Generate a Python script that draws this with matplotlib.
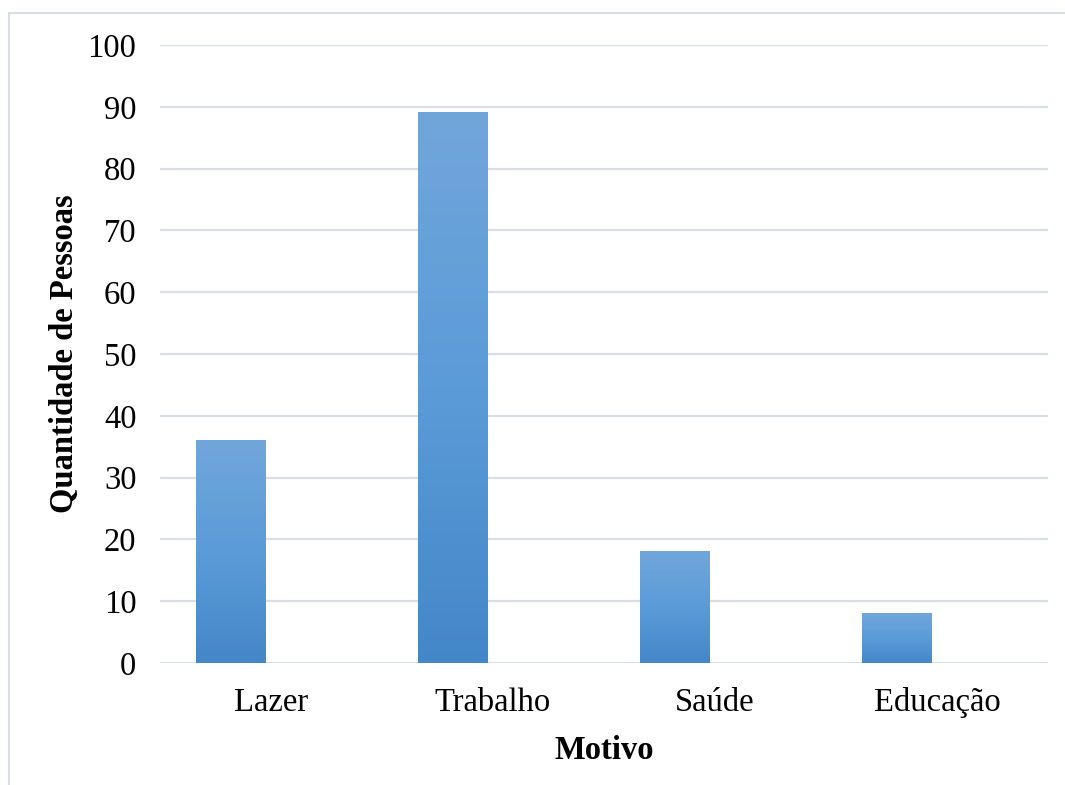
import matplotlib
matplotlib.use("Agg")
import matplotlib.pyplot as plt
import numpy as np
from matplotlib.patches import Rectangle
from matplotlib.colors import LinearSegmentedColormap

categories = ["Lazer", "Trabalho", "Saúde", "Educação"]
values = [36, 89, 18, 8]
y_ticks = [0, 10, 20, 30, 40, 50, 60, 70, 80, 90, 100]

plt.rcParams["font.family"] = ["Liberation Serif", "DejaVu Serif"]

W, H = 1065, 785
fig = plt.figure(figsize=(W / 100, H / 100), dpi=100)
fig.patch.set_facecolor("white")

# light frame around the chart area
frame = Rectangle((8.5 / W, -0.1), 1.2, 1 - 12.5 / H + 0.1, transform=fig.transFigure,
                  fill=False, edgecolor="#d9dde4", linewidth=1.5, zorder=0)
fig.patches.append(frame)

ax = fig.add_axes([160 / W, 122 / H, (1048 - 160) / W, (663 - 45) / H])

grad_cmap = LinearSegmentedColormap.from_list("bar_grad", ["#4487c8", "#5b9bd8", "#71a6db"])
grad = np.linspace(0, 1, 256).reshape(-1, 1)

offset, width = -0.182, 0.312
x = np.arange(len(categories))
bars = ax.bar(x + offset, values, width=width, color="none", edgecolor="none", zorder=3)
for b in bars:
    x0, y0 = b.get_x(), b.get_y()
    ax.imshow(grad, cmap=grad_cmap, origin="lower", aspect="auto",
              extent=(x0, x0 + b.get_width(), y0, y0 + b.get_height()), zorder=3,
              interpolation="bilinear")
ax.set_xlim(-0.5, len(categories) - 0.5)
ax.set_ylim(0, 100)

fs = 23.5
ax.set_yticks(y_ticks)
ax.set_xticks(x)
ax.set_xticklabels(categories)
ax.tick_params(axis="both", length=0, labelsize=fs, colors="black")
ax.tick_params(axis="y", pad=17)
ax.tick_params(axis="x", pad=17.5)
ax.grid(axis="y", color="#d9dde4", linewidth=1.6, zorder=1)
ax.set_axisbelow(True)
for s in ax.spines.values():
    s.set_visible(False)

ax.set_xlabel("Motivo", fontsize=fs, fontweight="bold", labelpad=12)
ax.set_ylabel("Quantidade de Pessoas", fontsize=fs, fontweight="bold", labelpad=5.5)

fig.savefig("out.png", dpi=100, facecolor="white")
